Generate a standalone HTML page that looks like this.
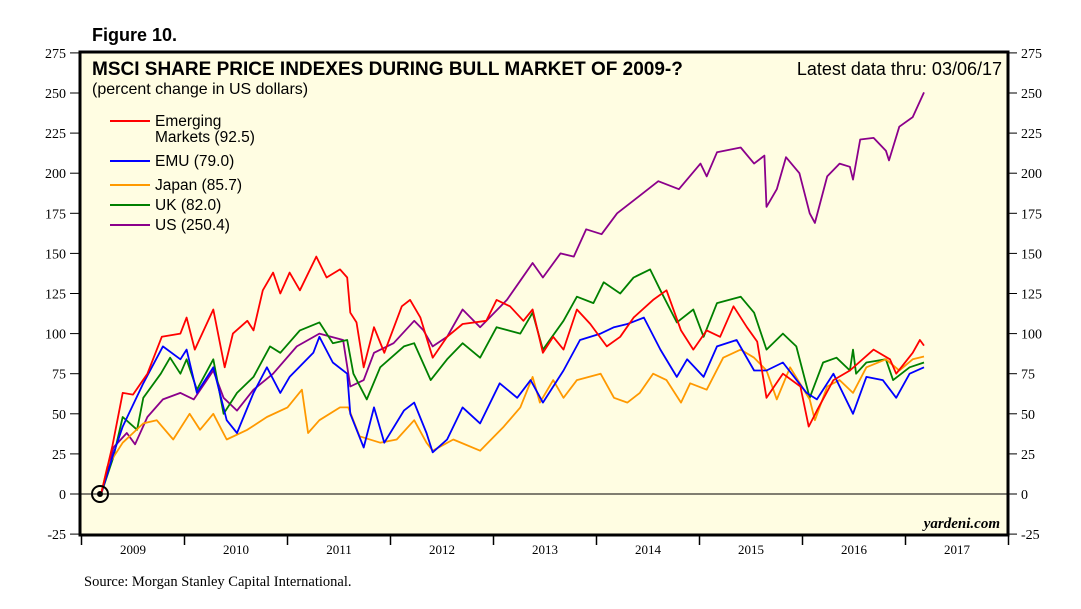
<!DOCTYPE html>
<html><head><meta charset="utf-8"><style>
body{margin:0;background:#fff;width:1081px;height:604px;overflow:hidden}
svg text{font-family:"Liberation Sans",Arial,sans-serif}
</style></head><body>
<svg id="chart" width="1081" height="604">
<text x="92" y="41" font-size="18" font-weight="bold">Figure 10.</text>
<rect x="80" y="52" width="928" height="483" fill="#fffde2" stroke="#000" stroke-width="3"/>
<g id="yaxes"></g><g id="xaxis"></g>
<text x="92" y="75" font-size="19" font-weight="bold">MSCI SHARE PRICE INDEXES DURING BULL MARKET OF 2009-?</text>
<text x="92" y="94" font-size="16">(percent change in US dollars)</text>
<text x="1002" y="75" font-size="18" text-anchor="end">Latest data thru: 03/06/17</text>
<g id="series"></g>
<g id="legend" font-size="15.5"></g>
<circle cx="100" cy="494" r="8" fill="none" stroke="#000" stroke-width="2"/>
<circle cx="100" cy="494" r="3" fill="#000"/>
<text x="1000" y="528" font-size="15" font-weight="bold" font-style="italic" text-anchor="end" style="font-family:'Liberation Serif',serif">yardeni.com</text>
<text x="84" y="586" font-size="14.5" style="font-family:'Liberation Serif',serif">Source: Morgan Stanley Capital International.</text>
</svg>
<script>
const yTicks=[-25,0,25,50,75,100,125,150,175,200,225,250,275];
const years=[2009,2010,2011,2012,2013,2014,2015,2016,2017];
const emT=[2009.19,2009.3,2009.4,2009.5,2009.64,2009.78,2009.96,2010.02,2010.1,2010.28,2010.39,2010.47,2010.61,2010.67,2010.76,2010.86,2010.93,2011.02,2011.12,2011.28,2011.38,2011.51,2011.58,2011.61,2011.67,2011.74,2011.84,2011.94,2012.11,2012.19,2012.29,2012.41,2012.55,2012.7,2012.93,2013.03,2013.16,2013.29,2013.38,2013.48,2013.58,2013.68,2013.81,2013.94,2014.1,2014.23,2014.36,2014.55,2014.68,2014.82,2014.94,2015.07,2015.2,2015.33,2015.46,2015.56,2015.65,2015.81,2015.98,2016.06,2016.14,2016.3,2016.46,2016.69,2016.85,2016.91,2017.07,2017.14,2017.18];
const emV=[0,30,63,62,75,98,100,110,90,115,79,100,108,102,127,138,125,138,127,148,135,140,135,113,107,79,104,88,117,121,110,85,98,106,108,121,117,108,115,88,98,90,115,106,92,98,110,121,127,102,90,102,98,117,104,95,60,75,67,42,52,71,77,90,84,75,88,96,92.5];
const euT=[2009.19,2009.31,2009.4,2009.6,2009.79,2009.96,2010.02,2010.12,2010.28,2010.41,2010.51,2010.67,2010.8,2010.93,2011.02,2011.25,2011.31,2011.44,2011.58,2011.61,2011.74,2011.84,2011.94,2012.13,2012.23,2012.35,2012.41,2012.55,2012.7,2012.87,2013.06,2013.23,2013.36,2013.48,2013.68,2013.84,2014.04,2014.17,2014.3,2014.46,2014.62,2014.78,2014.88,2015.04,2015.17,2015.36,2015.53,2015.65,2015.81,2016.04,2016.14,2016.3,2016.49,2016.62,2016.78,2016.91,2017.04,2017.18];
const euV=[0,25,42,69,92,84,90,63,79,46,38,63,79,63,73,88,98,82,75,50,29,54,32,52,57,38,26,34,54,44,69,60,71,57,77,96,100,104,106,110,90,73,84,73,92,96,77,77,82,63,59,75,50,73,71,60,75,79];
const jpT=[2009.19,2009.25,2009.4,2009.6,2009.73,2009.89,2010.05,2010.15,2010.28,2010.41,2010.61,2010.8,2011.0,2011.14,2011.2,2011.31,2011.51,2011.59,2011.7,2011.9,2012.06,2012.23,2012.35,2012.41,2012.61,2012.87,2013.1,2013.26,2013.38,2013.45,2013.58,2013.68,2013.81,2014.04,2014.17,2014.3,2014.42,2014.55,2014.68,2014.82,2014.91,2015.07,2015.23,2015.4,2015.53,2015.65,2015.75,2015.88,2016.07,2016.12,2016.24,2016.36,2016.49,2016.62,2016.81,2016.94,2017.07,2017.18];
const jpV=[0,17,32,44,46,34,50,40,50,34,40,48,54,65,38,46,54,54,36,32,34,46,32,27,34,27,42,54,73,57,71,60,71,75,60,57,63,75,71,57,69,65,85,90,85,77,59,79,59,46,67,71,63,79,84,77,84,85.7];
const ukT=[2009.19,2009.31,2009.4,2009.54,2009.6,2009.77,2009.86,2009.96,2010.02,2010.12,2010.28,2010.38,2010.51,2010.67,2010.83,2010.93,2011.12,2011.31,2011.44,2011.58,2011.64,2011.77,2011.9,2012.13,2012.23,2012.39,2012.55,2012.7,2012.87,2013.03,2013.26,2013.38,2013.48,2013.68,2013.81,2013.97,2014.07,2014.23,2014.36,2014.52,2014.62,2014.78,2014.94,2015.04,2015.17,2015.4,2015.53,2015.65,2015.81,2015.94,2016.07,2016.2,2016.33,2016.46,2016.49,2016.52,2016.62,2016.81,2016.88,2017.04,2017.18];
const ukV=[0,23,48,40,60,75,85,75,84,65,84,50,63,73,92,88,102,107,94,96,75,59,79,92,94,71,84,94,85,104,100,113,90,108,123,119,132,125,135,140,127,107,115,98,119,123,113,90,100,92,60,82,85,77,90,75,82,84,71,79,82];
const usT=[2009.19,2009.31,2009.44,2009.52,2009.64,2009.79,2009.96,2010.09,2010.28,2010.38,2010.51,2010.67,2010.86,2011.09,2011.31,2011.54,2011.61,2011.74,2011.84,2012.03,2012.23,2012.32,2012.41,2012.55,2012.7,2012.87,2013.13,2013.26,2013.38,2013.48,2013.65,2013.78,2013.9,2014.05,2014.2,2014.4,2014.6,2014.8,2015.01,2015.07,2015.17,2015.4,2015.53,2015.63,2015.65,2015.75,2015.84,2015.97,2016.07,2016.12,2016.24,2016.36,2016.46,2016.49,2016.56,2016.69,2016.81,2016.84,2016.94,2017.07,2017.18];
const usV=[0,29,38,31,48,59,63,59,77,60,52,65,75,92,100,96,67,71,88,94,108,102,92,98,115,104,121,133,144,135,150,148,165,162,175,185,195,190,206,198,213,216,206,211,179,190,210,200,175,169,198,206,204,196,221,222,214,208,229,235,250.4];
const seriesList=[
 {name:'Emerging Markets (92.5)',t:emT,v:emV,c:'#ff0000',id:'emerging-markets'},
 {name:'EMU (79.0)',t:euT,v:euV,c:'#0000ff',id:'emu'},
 {name:'Japan (85.7)',t:jpT,v:jpV,c:'#ff9900',id:'japan'},
 {name:'UK (82.0)',t:ukT,v:ukV,c:'#008000',id:'uk'},
 {name:'US (250.4)',t:usT,v:usV,c:'#8b008b',id:'us'}];
const NS='http://www.w3.org/2000/svg';
const X=t=>81.5+(t-2009)*103;
const Y=v=>494-v*1.604;
function mk(tag,attrs,parent,txt){const e=document.createElementNS(NS,tag);for(const k in attrs)e.setAttribute(k,attrs[k]);if(txt!=null)e.textContent=txt;parent.appendChild(e);return e;}
const ya=document.getElementById('yaxes');
yTicks.forEach(v=>{const y=Y(v);
 mk('line',{x1:70,x2:80,y1:y,y2:y,stroke:'#000'},ya);
 mk('line',{x1:1008,x2:1017,y1:y,y2:y,stroke:'#000'},ya);
 const l=mk('text',{x:66,y:y+5,'font-size':14,'text-anchor':'end',style:"font-family:'Liberation Serif',serif"},ya,String(v));
 
 
 const r=mk('text',{x:1021,y:y+5,'font-size':14,style:"font-family:'Liberation Serif',serif"},ya,String(v));
 
 
});
const zl=mk('line',{x1:80,x2:1008,y1:Y(0),y2:Y(0),stroke:'#000'},ya);


const xa=document.getElementById('xaxis');
years.concat([2018]).forEach(yr=>{const x=X(yr);mk('line',{x1:x,x2:x,y1:535,y2:545,stroke:'#000','stroke-width':1.5},xa);});
years.forEach(yr=>{const t=mk('text',{x:X(yr+0.5),y:554,'font-size':13,'text-anchor':'middle',style:"font-family:'Liberation Serif',serif"},xa,String(yr));
 
 });
const sg=document.getElementById('series');
seriesList.slice().reverse().forEach(s=>{
 const d=s.t.map((t,i)=>(i?'L':'M')+X(t).toFixed(1)+','+Y(s.v[i]).toFixed(1)).join('');
 const p=mk('path',{d:d,fill:'none',stroke:s.c,'stroke-width':1.8,'stroke-linejoin':'round'},sg);
 
 
});
const lg=document.getElementById('legend');
const ly=[121,161,185,205,225];
seriesList.forEach((s,i)=>{const y=ly[i];
 mk('line',{x1:110,x2:150,y1:y,y2:y,stroke:s.c,'stroke-width':2},lg);
 let t;
 if(i===0){t=mk('text',{x:155,y:y+5},lg);mk('tspan',{x:155,dy:0},t,'Emerging');mk('tspan',{x:155,dy:16},t,'Markets (92.5)');}
 else t=mk('text',{x:155,y:y+5},lg,s.name);
 
 
});
</script>
</body></html>
